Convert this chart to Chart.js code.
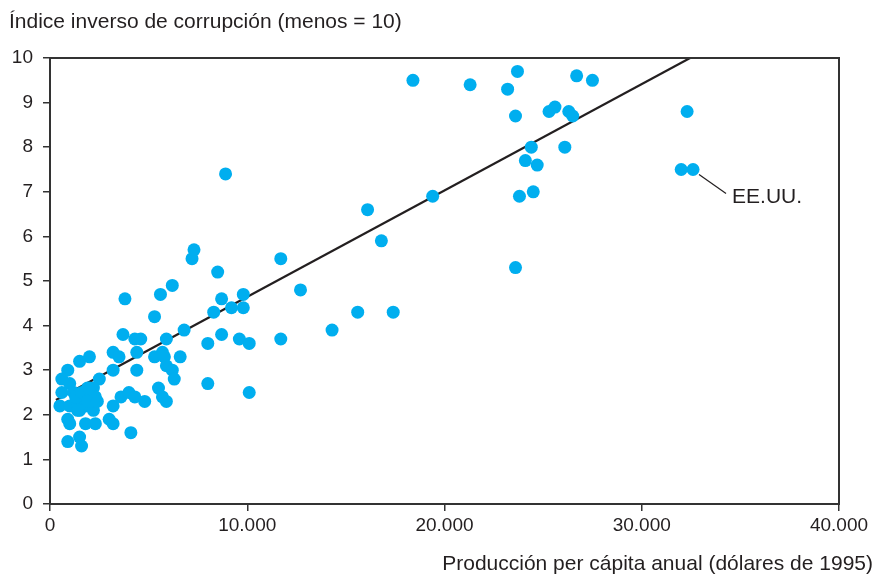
<!DOCTYPE html>
<html>
<head>
<meta charset="utf-8">
<script src="https://cdn.jsdelivr.net/npm/chart.js@4.4.1/dist/chart.umd.min.js"></script>
<style>
  html, body { margin: 0; padding: 0; background: #fff; }
  #wrap { width: 876px; height: 575px; }
</style>
</head>
<body>
<div id="wrap"><canvas id="chart" width="876" height="575"></canvas></div>
<script>
// producción per cápita (dólares de 1995) y índice inverso de corrupción
var gdpValues = [
  21300, 23700, 23200, 26700, 27500, 18400, 23600, 25300, 25600, 26300, 26500, 32300,
  24400, 26100, 24100, 24700, 32000, 32600, 24500, 23800, 23600,
  8900, 19400, 16100, 16800, 11700, 8500, 12700, 9800, 8700, 8300, 9200, 9800,
  15600, 17400, 14300, 8700, 8000, 9600, 10100, 11700, 8000, 10100, 7300, 7200,
  6200, 5600, 3800, 5300, 6800, 5900, 3700, 4300, 4600, 4400, 3200, 3500, 5300,
  5700, 5800, 6600, 2000, 1500, 4400, 3200, 5900, 6200, 6300, 2500, 600, 1000, 900,
  5500, 3600, 4000, 4300, 4800, 5700, 5900, 3200, 600, 500, 1000, 2200, 3000, 3200,
  1800, 2300, 900, 1000, 4100, 900, 1500, 1600,
  1200, 1400, 1500, 1700, 1800, 2000, 2100, 2200, 2300, 1300, 1600, 1900, 2400, 1400, 1900, 2000
];
var corruptionIndex = [
  9.4, 9.7, 9.3, 9.6, 9.5, 9.5, 8.7, 8.8, 8.9, 8.8, 8.7, 8.8,
  8.0, 8.0, 7.7, 7.6, 7.5, 7.5, 7.0, 6.9, 5.3,
  7.4, 6.9, 6.6, 5.9, 5.5, 5.2, 4.8, 4.7, 4.6, 4.3, 4.4, 4.4,
  4.3, 4.3, 3.9, 3.8, 3.6, 3.7, 3.6, 3.7, 2.7, 2.5, 5.7, 5.5,
  4.9, 4.7, 4.6, 4.2, 3.9, 3.7, 3.8, 3.7, 3.7, 3.4, 3.4, 3.3, 3.3,
  3.4, 3.3, 3.3, 3.3, 3.2, 3.0, 3.0, 3.1, 3.0, 2.8, 2.8, 2.8, 2.7, 3.0,
  2.6, 2.4, 2.5, 2.4, 2.3, 2.4, 2.3, 2.2, 2.5, 2.2, 2.2, 2.1, 1.9, 1.8,
  1.8, 1.8, 1.9, 1.8, 1.6, 1.4, 1.5, 1.3,
  2.5, 2.3, 2.1, 2.4, 2.2, 2.5, 2.3, 2.6, 2.4, 2.4, 2.5, 2.3, 2.3, 2.1, 2.6, 2.6
];
// recta de regresión (extremos)
var fitX = [300, 32450];
var fitY = [2.33, 10];
var xTicks = [0, 10000, 20000, 30000, 40000];
var usaLabel = 'EE.UU.';
var usaPoint = { x: 32600, y: 7.5 };

var textColor = '#231f20';
var axisColor = '#333333';
var dotColor = '#00aeef';
var font = '"Liberation Sans", Arial, Helvetica, sans-serif';

var points = [];
for (var i = 0; i < gdpValues.length; i++) {
  points.push({ x: gdpValues[i], y: corruptionIndex[i] });
}
var fitLine = [];
for (var j = 0; j < fitX.length; j++) {
  fitLine.push({ x: fitX[j], y: fitY[j] });
}

function formatThousands(v) {
  if (v === 0) return '0';
  return String(v).replace(/\B(?=(\d{3})+(?!\d))/g, '.');
}

var decorations = {
  id: 'decorations',
  afterDraw: function(chart) {
    var ctx = chart.ctx;
    var a = chart.chartArea;
    var xs = chart.scales.x, ys = chart.scales.y;
    ctx.save();
    // marco
    ctx.strokeStyle = axisColor;
    ctx.lineWidth = 2;
    ctx.strokeRect(a.left, a.top, a.right - a.left, a.bottom - a.top);
    // títulos
    ctx.fillStyle = textColor;
    ctx.font = '21px ' + font;
    ctx.textBaseline = 'alphabetic';
    ctx.textAlign = 'left';
    ctx.fillText('Índice inverso de corrupción (menos = 10)', 9, 28);
    ctx.textAlign = 'right';
    ctx.fillText('Producción per cápita anual (dólares de 1995)', 873, 570);
    // etiqueta EE.UU.
    var px = xs.getPixelForValue(usaPoint.x);
    var py = ys.getPixelForValue(usaPoint.y);
    ctx.strokeStyle = textColor;
    ctx.lineWidth = 1.2;
    ctx.beginPath();
    ctx.moveTo(px + 6, py + 5);
    ctx.lineTo(px + 33, py + 24);
    ctx.stroke();
    ctx.textAlign = 'left';
    ctx.fillText(usaLabel, px + 39, py + 33);
    ctx.restore();
  }
};

new Chart(document.getElementById('chart'), {
  type: 'scatter',
  data: {
    datasets: [
      {
        type: 'line',
        data: fitLine,
        borderColor: '#231f20',
        borderWidth: 2.2,
        pointRadius: 0,
        fill: false,
        order: 2
      },
      {
        data: points,
        backgroundColor: dotColor,
        borderColor: dotColor,
        borderWidth: 0,
        pointRadius: 6.5,
        pointHoverRadius: 6.5,
        order: 1
      }
    ]
  },
  options: {
    responsive: false,
    animation: false,
    events: [],
    layout: { padding: { top: 58, right: 37, left: 0, bottom: 0 } },
    plugins: { legend: { display: false }, tooltip: { enabled: false } },
    scales: {
      x: {
        type: 'linear',
        min: 0, max: 40000,
        afterBuildTicks: function(scale) {
          scale.ticks = xTicks.map(function(v) { return { value: v }; });
        },
        afterFit: function(scale) { scale.height = 71; },
        grid: { display: true, drawOnChartArea: false, drawTicks: true, tickLength: 7, color: axisColor, lineWidth: 1.5 },
        border: { display: true, color: axisColor, width: 2 },
        ticks: {
          color: textColor,
          font: { family: font, size: 19 },
          padding: 3,
          maxRotation: 0,
          callback: function(v) { return formatThousands(v); }
        }
      },
      y: {
        type: 'linear',
        min: 0, max: 10,
        afterFit: function(scale) { scale.width = 50; },
        grid: { display: true, drawOnChartArea: false, drawTicks: true, tickLength: 7, color: axisColor, lineWidth: 1.5 },
        border: { display: true, color: axisColor, width: 2 },
        ticks: {
          color: textColor,
          font: { family: font, size: 19 },
          stepSize: 1,
          padding: 10
        }
      }
    }
  },
  plugins: [decorations]
});
</script>
</body>
</html>
